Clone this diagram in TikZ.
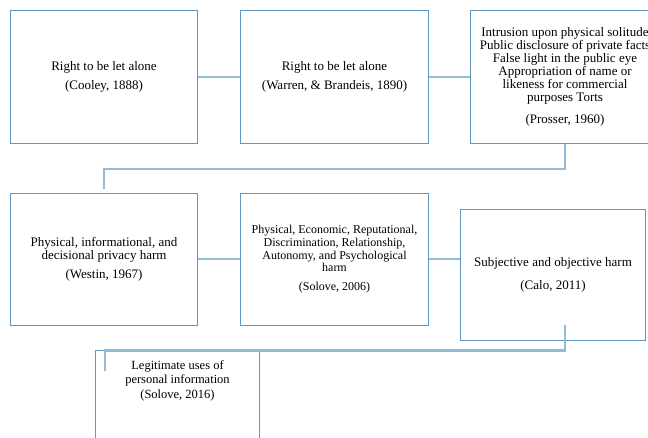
\documentclass[tikz,border=0pt]{standalone}
\usepackage{fontspec}
\setmainfont{Liberation Serif}
\definecolor{boxblue}{RGB}{96,150,192}
\definecolor{linkblue}{RGB}{146,189,215}

\begin{document}
\begin{tikzpicture}[x=1pt, y=-1pt,
  box/.style={draw=boxblue, line width=1.2pt, minimum width=187pt, minimum height=133pt,
    align=center, inner sep=2pt, font=\fontsize{13}{13}\selectfont},
  link/.style={draw=linkblue, line width=2pt}]
  \useasboundingbox (0,0) rectangle (648,438);
  \clip (0,0) rectangle (648,438);

  % Top row
  \node (cooley) at (104,77) [box] {Right to be let alone\\[6pt](Cooley, 1888)};
  \node (warren) at (334.5,77) [box, minimum width=188pt] {Right to be let alone\\[6pt](Warren, \& Brandeis, 1890)};
  \node (prosser) at (565,77) [box, minimum width=189pt] {Intrusion upon physical solitude\\
    Public disclosure of private facts\\False light in the public eye\\Appropriation of name or\\
    likeness for commercial\\purposes Torts\\[9pt](Prosser, 1960)};

  % Second row
  \node (westin) at (104,259.5) [box, minimum height=132pt] {Physical, informational, and\\
    decisional privacy harm\\[6pt](Westin, 1967)};
  \node (solove06) at (334.5,259.5) [box, minimum width=188pt, minimum height=132pt,
    font=\fontsize{12}{12.6}\selectfont] {Physical, Economic, Reputational,\\Discrimination, Relationship,\\
    Autonomy, and Psychological\\harm\\[6.5pt](Solove, 2006)};
  \node (calo) at (553,275) [box, minimum width=185pt, minimum height=131pt] {Subjective and objective harm\\[10pt](Calo, 2011)};

  % Last box, text at the top
  \node (solove16) at (177.5,416.5) [box, minimum width=164pt, minimum height=132pt,
    font=\fontsize{12.5}{14.5}\selectfont] {\parbox[c][124pt][t]{156pt}{\vspace*{6pt}\centering
    Legitimate uses of\\personal information\\(Solove, 2016)}};

  % Connectors
  \coordinate (calodrop) at (565,325);
  \coordinate (legitend) at (105,370.5);
  \draw[link] (cooley) -- (warren);
  \draw[link] (warren) -- (prosser);
  \draw[link, shorten >=3.5pt] (prosser.south) -- ++(0,25) -| (westin.north);
  \draw[link] (westin) -- (solove06);
  \draw[link] (solove06.east) -- (solove06.east -| calo.west);
  \draw[link] (calodrop) -- ++(0,25.5) -| (legitend);
\end{tikzpicture}
\end{document}
